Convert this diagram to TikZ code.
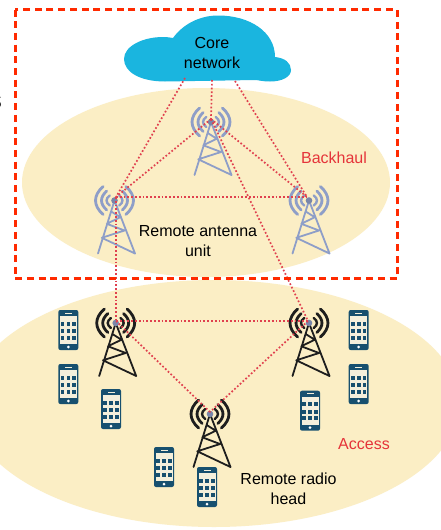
\documentclass[tikz,border=0pt]{standalone}
\usepackage{fontspec}
\setmainfont{Liberation Sans}
\definecolor{sand}{HTML}{FBEEC5}
\definecolor{cloudblue}{HTML}{1AB5DF}
\definecolor{towerblue}{HTML}{8E9EC8}
\definecolor{towerblack}{HTML}{1E1E1E}
\definecolor{phoneblue}{HTML}{17506F}
\definecolor{phonescreen}{HTML}{F4F0DC}
\definecolor{linkred}{HTML}{E0404E}
\definecolor{boxred}{HTML}{FF2A00}
\definecolor{labelred}{HTML}{E5343A}
\tikzset{
  x=1pt,y=-1pt,
  lbl/.style={font=\fontsize{16}{19.5}\selectfont,align=center,inner sep=0pt,text=black},
  redlbl/.style={lbl,text=labelred},
  link/.style={draw=linkred,line width=1.7pt,dash pattern=on 1.7pt off 2.1pt},
  pics/ant/.style={code={
    \draw[#1,line width=1.8pt,line cap=round,line join=round]
      (0,0)--(-16.5,53) (0,0)--(20.5,53)
      (-3.3,11)--(5.7,16.7)--(-7.7,23.3)--(10,30)--(-12.7,37.3)--(20.5,53);
    \foreach \s in {-1,1}{
      \draw[#1,line width=2.8pt,line cap=round]
        (\s*11.4,-14) .. controls (\s*21.5,-5) and (\s*21.5,5) .. (\s*11.4,14);
      \draw[#1,line width=2.8pt,line cap=round]
        (\s*7.8,-9.5) .. controls (\s*14.7,-3.3) and (\s*14.7,3.3) .. (\s*7.8,9.5);
      \draw[#1,line width=2.4pt,line cap=round]
        (\s*4.8,-5) .. controls (\s*9,-1.8) and (\s*9,1.8) .. (\s*4.8,5);
    }
    \fill[towerblue!85!black] (0,0) circle (3.3);
  }},
  pics/phone/.style={code={
    \fill[phoneblue,rounded corners=2pt] (-10,-20) rectangle (10,20);
    \fill[phonescreen] (-8.5,-14) rectangle (8.5,14);
    \fill[phonescreen] (-3.5,-17.5) rectangle (3.5,-16.5);
    \fill[white] (0,17) circle (1.5);
    \foreach \gx in {-7.7,-1.8,4}{\foreach \gy in {-8.3,-1,5.7}{
      \fill[phoneblue] (\gx,\gy) rectangle ++(3.7,4);
    }}
  }}
}
\begin{document}
\begin{tikzpicture}
\useasboundingbox (0,0) rectangle (440,530);
\fill[white] (0,0) rectangle (440,530);
% ellipses
\fill[sand] (206,182.5) ellipse [x radius=184,y radius=94.5];
\fill[sand] (214,403.5) ellipse [x radius=245.5,y radius=123.5];
% cloud
\fill[cloudblue] (165,81.5) .. controls (140,81.5) and (124,72) .. (124,59)
  .. controls (124,46) and (143,37) .. (163,37)
  .. controls (167,37) and (170,37.5) .. (173,38)
  .. controls (183,24) and (200,15.5) .. (218,15.5)
  .. controls (250,15.5) and (275,32) .. (275,57)
  .. controls (285,58) and (291,63) .. (291,70)
  .. controls (291,77) and (282,81.5) .. (270,81.5)
  .. controls (262,81.5) and (258,80) .. (255,80) -- cycle;
% link anchors
\coordinate (c1) at (185,78);
\coordinate (c2) at (212,80);
\coordinate (c3) at (235,81);
\coordinate (bt) at (211,119);
\coordinate (bl) at (116,197);
\coordinate (br) at (307,197);
\coordinate (al) at (116,321);
\coordinate (ar) at (308,321);
\coordinate (ab) at (210,412);
% towers
\pic at (211,122) {ant=towerblue};
\pic at (114.5,200.5) {ant=towerblue};
\pic at (309,200.5) {ant=towerblue};
\pic at (115.7,323) {ant=towerblack};
\pic at (309,323) {ant=towerblack};
\pic at (210,414) {ant=towerblack};
% phones
\pic at (68.3,330) {phone};
\pic at (68.3,384) {phone};
\pic at (111,409) {phone};
\pic at (358.7,330) {phone};
\pic at (358.7,384) {phone};
\pic at (310,410.7) {phone};
\pic at (164,467) {phone};
\pic at (207,487) {phone};
% links
\draw[link] (c1)--(bl);
\draw[link] (c2)--(bt);
\draw[link] (c3)--(br);
\draw[link] (bt)--(bl);
\draw[link] (bt)--(br);
\draw[link] (bl)--(br);
\draw[link] (bl)--(al);
\draw[link] (bt)--(ar);
\draw[link] (al)--(ar);
\draw[link] (al)--(ab);
\draw[link] (ar)--(ab);
% dashed box
\draw[boxred,line width=3pt,dash pattern=on 7pt off 4.7pt] (15,9.5) rectangle (397,278.5);
% labels
\node[lbl] (core) at (212,53) {Core\\network};
\node[redlbl,anchor=base] (backhaul) at (334,163) {Backhaul};
\node[lbl] (rau) at (198,241) {Remote antenna\\unit};
\node[redlbl,anchor=base] (access) at (364,449) {Access};
\node[lbl] (rrh) at (288.5,489) {Remote radio\\head};
\node[lbl,font=\fontsize{25}{25}\selectfont,anchor=base east] (cut) at (2,108) {s};
\end{tikzpicture}
\end{document}
